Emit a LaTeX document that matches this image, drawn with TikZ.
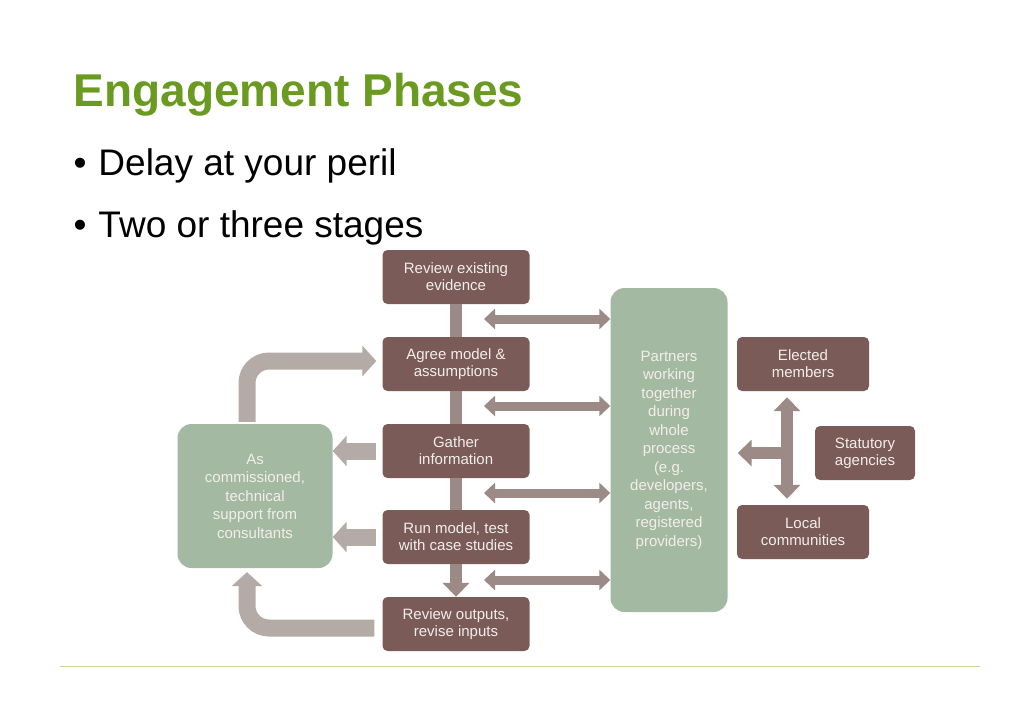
\documentclass[tikz,border=0pt]{standalone}
\usepackage{fontspec}
\setmainfont{Liberation Sans}
\usetikzlibrary{arrows.meta,calc}
\definecolor{brn}{HTML}{7A5B57}
\definecolor{grn}{HTML}{A4B9A1}
\definecolor{arw}{HTML}{9C8A86}
\definecolor{larw}{HTML}{B4ABA6}
\definecolor{ttl}{HTML}{6A9A1F}
\definecolor{txt}{HTML}{F3EEEA}
\tikzset{
  stepbox/.style={fill=brn,rounded corners=5pt,minimum width=147pt,minimum height=54pt,text=txt,font=\fontsize{15}{17}\selectfont,align=center,inner sep=0pt},
  sidebox/.style={stepbox,minimum width=132pt},
  greenbox/.style={fill=grn,rounded corners=14pt,text=txt,font=\fontsize{15}{18.5}\selectfont,align=center,inner sep=0pt},
  dbl/.style={draw=arw,line width=9pt,{Triangle[width=20pt,length=11pt]}-{Triangle[width=20pt,length=11pt]}},
  fat/.style={draw=larw,line width=17pt,-{Triangle[width=30pt,length=14pt]}},
  bar/.style={draw=arw,line width=12pt}
}
\begin{document}
\begin{tikzpicture}[x=1pt,y=-1pt]
\useasboundingbox (0,0) rectangle (1024,709);
\fill[white] (0,0) rectangle (1024,709);
\node[anchor=base west,text=ttl,font=\fontsize{46}{50}\selectfont\bfseries] (title) at (70,106) {Engagement Phases};
\node[anchor=base west,font=\fontsize{37}{40}\selectfont] (b1) at (70,175) {\textbullet\hspace{12pt}Delay at your peril};
\node[anchor=base west,font=\fontsize{37}{40}\selectfont] (b2) at (70,237) {\textbullet\hspace{12pt}Two or three stages};
\draw[draw={rgb,255:red,200;green,216;blue,140},line width=1pt] (60,666) coordinate (l1) -- (980,666) coordinate (l2);

\node[stepbox] (s1) at (456,277) {Review existing\\evidence};
\node[stepbox] (s2) at (456,364) {Agree model \&\\assumptions};
\node[stepbox] (s3) at (456,451) {Gather\\information};
\node[stepbox] (s4) at (456,537) {Run model, test\\with case studies};
\node[stepbox] (s5) at (456,624) {Review outputs,\\revise inputs};
\node[greenbox,minimum width=155pt,minimum height=144pt] (g) at (255,496) {As\\commissioned,\\technical\\support from\\consultants};
\node[greenbox,minimum width=117pt,minimum height=324pt] (p) at (669,450) {Partners\\working\\together\\during\\whole\\process\\(e.g.\\developers,\\agents,\\registered\\providers)};
\node[sidebox] (e) at (803,364) {Elected\\members};
\node[sidebox,minimum width=100pt] (st) at (865,453) {Statutory\\agencies};
\node[sidebox] (lc) at (803,532) {Local\\communities};

% vertical bars
\draw[bar] (s1.south) -- (s2.north);
\draw[bar] (s2.south) -- (s3.north);
\draw[bar] (s3.south) -- (s4.north);
\draw[draw=arw,line width=12pt,-{Triangle[width=26pt,length=14pt]}] (s4.south) -- (s5.north);

% double arrows to partners
\foreach \y in {319,406,493,580}{
  \draw[dbl] (484,\y) -- (p.west |- 0,\y);
}
% left arrows
\draw[fat] (s3.west) ++(-6,0) -- (g.east |- s3.west);
\draw[fat] (s4.west) ++(-6,0) -- (g.east |- s4.west);
% curved arrows
\draw[fat,rounded corners=22pt] ($(g.north)+(-8,-2)$) |- ($(s2.west)+(-6,-3)$);
\draw[fat,rounded corners=22pt] ($(s5.west)+(-8,4)$) -| ($(g.south)+(-8,4)$);
% cross arrow
\coordinate (c) at (787,453);
\draw[draw=arw,line width=12pt,{Triangle[width=26pt,length=14pt]}-{Triangle[width=26pt,length=14pt]}] ($(e.south)+(-16,6)$) -- ($(lc.north)+(-16,-6)$);
\draw[draw=arw,line width=12pt,-{Triangle[width=26pt,length=14pt]}] (c) -- ($(p.east |- c)+(10,0)$);
\end{tikzpicture}
\end{document}
